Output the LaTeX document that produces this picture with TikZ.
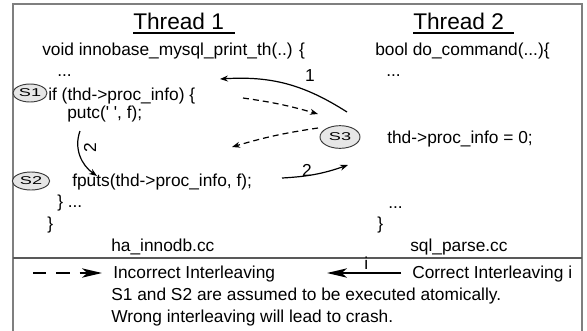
\documentclass[tikz,border=0pt]{standalone}
\usepackage{fontspec}
\setmainfont{Liberation Sans}
\usetikzlibrary{arrows.meta,positioning,shapes.geometric}
\definecolor{framegray}{HTML}{7F7F7F}
\definecolor{stmtfill}{HTML}{E6E6E6}
\definecolor{stmtline}{HTML}{3A3A3A}

\begin{document}
\begin{tikzpicture}[x=0.75pt,y=-0.75pt,
    code/.style={anchor=base west, inner sep=0pt, font=\fontsize{13}{15}\selectfont},
    title/.style={anchor=base west, inner sep=0pt, font=\fontsize{17}{20}\selectfont},
    stmt/.style={ellipse, draw=stmtline, fill=stmtfill, line width=0.7pt, inner sep=0pt,
                 minimum height=13.5pt, font=\fontsize{8.5}{9}\selectfont},
    flow/.style={-{Stealth[length=6pt,width=4.5pt]}, line width=0.9pt},
    wrong/.style={flow, dash pattern=on 4.5pt off 3pt},
    bigtip/.style={-{Stealth[length=15pt,width=7pt,inset=4pt]}, line width=1.1pt},
]
    \useasboundingbox (0,0) rectangle (587,330);

    % Frame and separator
    \draw[framegray, line width=1.2pt] (13,332) |- (582,4) -- (582,332);
    \draw[framegray!70!black, line width=1pt] (13,258) -- (582,258);

    % Thread titles
    \node[title] (t1) at (133,29) {Thread 1};
    \draw[line width=1.4pt] ([yshift=-2.8pt]t1.base west) -- ++(102,0);
    \node[title] (t2) at (413,29) {Thread 2};
    \draw[line width=1.4pt] ([yshift=-2.8pt]t2.base west) -- ++(101,0);

    % Thread 1 code
    \node[code] (f1) at (42,55) {void innobase\_mysql\_print\_th(..) \{};
    \node[code] (f1dots) at (57,76) {...};
    \node[code] (if1) at (48,100) {if (thd->proc\_info) \{};
    \node[code] (putc1) at (67,118) {putc(\textquotesingle\ \textquotesingle, f);};
    \node[code] (fputs1) at (72,186) {fputs(thd->proc\_info, f);};
    \node[code] (f1end) at (57,207) {\} ...};
    \node[code] (f1close) at (47,229) {\}};
    \node[code] (file1) at (111,251) {ha\_innodb.cc};

    % Thread 2 code
    \node[code] (f2) at (375,55) {bool do\_command(...)\{};
    \node[code] (f2dots) at (386,76) {...};
    \node[code] (set2) at (387,143) {thd->proc\_info = 0;};
    \node[code] (f2end) at (388,208) {...};
    \node[code] (f2close) at (377,229) {\}};
    \node[code] (file2) at (410,251) {sql\_parse.cc};

    % Statement marks
    \node[stmt, minimum width=25.5pt] (s1) at (30,93) {\scalebox{1.6}[1]{S1}};
    \node[stmt, minimum width=28pt] (s2) at (31,181) {\scalebox{1.6}[1]{S2}};
    \node[stmt, minimum width=30pt, minimum height=17pt] (s3) at (340,137) {\scalebox{1.6}[1]{S3}};

    % Arrow ends
    \coordinate (oneFrom) at (347,112);
    \coordinate (oneTo) at (220,79);
    \coordinate (badFrom) at (243,98);
    \coordinate (badTo) at (318,114);
    \coordinate (backFrom) at (318,128);
    \coordinate (backTo) at (232,147);
    \coordinate (twoFrom) at (282,178);
    \coordinate (twoTo) at (348,165);
    \coordinate (downFrom) at (80,131);
    \coordinate (downTo) at (97,176);

    % Interleavings
    \draw[flow] (oneFrom) to[bend right=18] (oneTo);
    \node[code, anchor=center] (lab1) at (310,76) {1};
    \draw[wrong] (badFrom) to[bend left=4] (badTo);
    \draw[wrong] (backFrom) to[bend right=4] (backTo);
    \draw[flow] (twoFrom) to[bend right=8] (twoTo);
    \node[code, anchor=center] (lab2) at (307,170) {2};
    \draw[flow] (downFrom) to[out=-110, in=145] (downTo);
    \node[code, anchor=center, rotate=90] (lab2b) at (90,148) {2};

    % Legend
    \coordinate (dashFrom) at (33,273);
    \coordinate (dashTo) at (102,273);
    \draw[bigtip, dash pattern=on 10pt off 7.5pt] (dashFrom) -- (dashTo);
    \node[code] (wrongtxt) at (113,278) {Incorrect Interleaving};
    \coordinate (okFrom) at (401,273);
    \coordinate (okTo) at (327,273);
    \draw[bigtip] (okFrom) -- (okTo);
    \node[code] (oki) at (364,269) {i};
    \node[code] (oktxt) at (412,278) {Correct Interleaving i};
    \node[code] (note1) at (111,300) {S1 and S2 are assumed to be executed atomically.};
    \node[code] (note2) at (111,322) {Wrong interleaving will lead to crash.};

\end{tikzpicture}
\end{document}
